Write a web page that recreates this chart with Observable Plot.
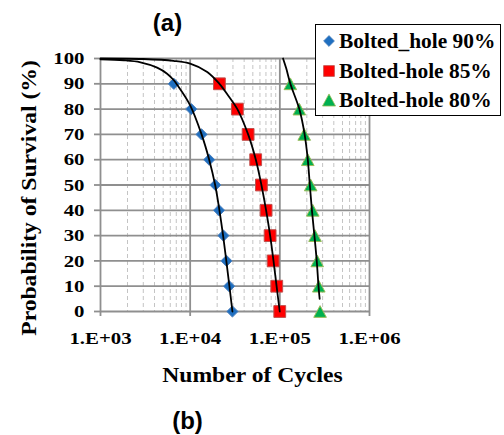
<!DOCTYPE html>
<html><head><meta charset="utf-8">
<script src="https://cdn.jsdelivr.net/npm/d3@7"></script>
<script src="https://cdn.jsdelivr.net/npm/@observablehq/plot@0.6"></script>
<style>
body{margin:0;background:#fff;}
#wrap{position:relative;width:504px;height:435px;overflow:hidden;}
#legend{position:absolute;left:315px;top:24px;width:184px;height:90px;border:1.5px solid #000;background:#fff;
  font-family:"Liberation Serif","Times New Roman",serif;font-weight:bold;font-size:20px;color:#000;}
.item{position:absolute;left:0;height:24px;width:184px;}
.item svg{position:absolute;left:5px;top:4px;}
.item span{position:absolute;left:23px;top:0;line-height:24px;white-space:nowrap;transform:scaleX(1.07);transform-origin:left center;}
</style>
</head><body>
<div id="wrap"><div id="legend"></div></div>
<script>
// ---- data ----
const seriesNames = ["Bolted_hole 90%", "Bolted-hole 85%", "Bolted-hole 80%"];
const seriesColors = ["#1f6fc0", "#ff0000", "#00b050"];
const seriesStrokes = ["#4f81bd", "#c0504d", "#9bbb59"];
const survival = [90, 80, 70, 60, 50, 40, 30, 20, 10, 0];
const cycles90 = [6570, 10300, 13400, 16300, 19100, 21000, 23500, 25400, 27200, 29600];
const cycles85 = [21200, 33600, 44300, 53800, 62300, 70300, 77900, 84200, 92400, 99800];
const cycles80 = [131000, 165000, 187000, 205000, 221000, 233000, 247000, 261000, 272000, 281000];
// fitted curves
const fit90x = [1000, 1820, 2790, 4280, 5530, 6570, 7200, 10000, 13400, 16300, 19000, 21200, 23300, 25300, 27400, 29600];
const fit90y = [99.7, 99.3, 98.5, 96.4, 94, 91.4, 89.5, 81.5, 70, 60, 50, 40, 30, 20, 10, 0];
const fit85x = [1000, 3000, 6500, 10000, 15500, 21200, 27000, 33600, 44300, 54000, 62300, 70300, 78000, 85000, 92000, 99800];
const fit85y = [100, 99.8, 99.1, 98, 94.7, 90, 85, 80, 70, 60, 50, 40, 30, 20, 10, 0];
const fit80x = [108600, 118000, 131000, 165000, 189000, 205000, 216000, 228000, 243000, 258000, 270000, 278000];
const fit80y = [100, 96, 90, 80, 70, 60, 50, 40, 30, 20, 10, 5];
const yTicks = [0, 10, 20, 30, 40, 50, 60, 70, 80, 90, 100];
const xTicks = [1e3, 1e4, 1e5, 1e6];
const xTickLabels = ["1.E+03", "1.E+04", "1.E+05", "1.E+06"];
const xTitle = "Number of Cycles";
const yTitle = "Probability of Survival (%)";
const panelTop = "(a)";
const panelBottom = "(b)";

// ---- symbols ----
const diamond = {draw(ctx, size){const r=Math.sqrt(size/Math.PI);ctx.moveTo(0,-r);ctx.lineTo(r,0);ctx.lineTo(0,r);ctx.lineTo(-r,0);ctx.closePath();}};
const square = {draw(ctx, size){const r=Math.sqrt(size/Math.PI);ctx.rect(-r,-r,2*r,2*r);}};
const triangle = {draw(ctx, size){const r=Math.sqrt(size/Math.PI);const h=0.93*r;ctx.moveTo(0,-h);ctx.lineTo(r,h);ctx.lineTo(-r,h);ctx.closePath();}};
const symbols = [diamond, square, triangle];
const radii = [5.6, 5.9, 6.3];

const pts = [cycles90, cycles85, cycles80].map((c, s) => survival.map((y, i) => ({x: c[i], y, s})));
const fits = [[fit90x, fit90y], [fit85x, fit85y], [fit80x, fit80y]].map(([xs, ys]) => xs.map((x, i) => ({x, y: ys[i]})));

const minor = [];
for (const d of [1e3, 1e4, 1e5]) for (let k = 2; k <= 9; k++) minor.push(d * k);

const svg = Plot.plot({
  width: 504, height: 435,
  marginLeft: 100, marginRight: 135, marginTop: 58, marginBottom: 124,
  style: {fontFamily: "'Liberation Serif','Times New Roman',serif", fontWeight: "bold", overflow: "visible", background: "transparent"},
  x: {type: "log", domain: [1e3, 1e6]},
  y: {domain: [0, 100]},
  marks: [
    Plot.ruleX(minor, {stroke: "#c4c4c4", strokeWidth: 1, strokeDasharray: "4,3"}),
    Plot.ruleY(yTicks, {stroke: "#8f8f8f", strokeWidth: 1.8}),
    Plot.ruleX(xTicks, {stroke: "#8f8f8f", strokeWidth: 1.8}),
    Plot.axisY({ticks: yTicks, tickSize: 6, tickPadding: 10, fontSize: 17.5, stroke: "#8f8f8f", strokeWidth: 1.8, fill: "#000", label: null}),
    Plot.axisX({ticks: xTicks, tickFormat: (d) => xTickLabels[xTicks.indexOf(d)], tickSize: 5, tickPadding: 15, fontSize: 17.5, stroke: "#8f8f8f", strokeWidth: 1.8, fill: "#000", label: null}),
    ...pts.map((p, s) => Plot.dot(p, {x: "x", y: "y", symbol: symbols[s], r: radii[s], fill: seriesColors[s], stroke: seriesStrokes[s], strokeWidth: 1})),
    ...fits.map(f => Plot.line(f, {x: "x", y: "y", curve: "catmull-rom", stroke: "#000", strokeWidth: 1.8})),
    Plot.text([xTitle], {frameAnchor: "bottom", lineAnchor: "bottom", textAnchor: "middle", dx: 17.5, dy: 70.5, fontSize: 20, fill: "#000"}),
    Plot.text([yTitle], {frameAnchor: "left", rotate: -90, textAnchor: "middle", dx: -71, dy: 13, fontSize: 20, fill: "#000"}),
    Plot.text([panelTop], {frameAnchor: "top-left", lineAnchor: "bottom", textAnchor: "middle", dx: 67, dy: -27.5, fontSize: 24, fontFamily: "'Liberation Sans', Arial, sans-serif", fill: "#000"}),
    Plot.text([panelBottom], {frameAnchor: "bottom-left", lineAnchor: "bottom", textAnchor: "middle", dx: 87, dy: 117.5, fontSize: 24, fontFamily: "'Liberation Sans', Arial, sans-serif", fill: "#000"})
  ]
});
const wrap = document.getElementById("wrap");
wrap.insertBefore(svg, wrap.firstChild);
// horizontal stretch of the serif texts to match the reference's wide glyphs
svg.querySelectorAll("text").forEach(t => {
  const txt = t.textContent;
  if (txt === panelTop || txt === panelBottom) return;
  const f = (txt === xTitle || txt === yTitle) ? 1.18 : 1.19;
  const L = t.getComputedTextLength();
  if (L > 0) {
    t.setAttribute("textLength", (L * f).toFixed(2));
    t.setAttribute("lengthAdjust", "spacingAndGlyphs");
  }
});

// legend
const legend = document.getElementById("legend");
const legendSizes = [5.4, 5.4, 6.5];
seriesNames.forEach((name, s) => {
  const item = document.createElement("div");
  item.className = "item";
  item.style.top = (4 + s * 29.5) + "px";
  const r = legendSizes[s];
  const ms = d3.create("svg").attr("width", 16).attr("height", 16);
  const g = ms.append("g").attr("transform", "translate(8,8)");
  g.append("path").attr("d", d3.symbol(symbols[s], Math.PI * r * r)()).attr("fill", seriesColors[s]).attr("stroke", seriesStrokes[s]).attr("stroke-width", 0.8);
  item.append(ms.node());
  const sp = document.createElement("span");
  sp.textContent = name;
  item.append(sp);
  legend.append(item);
});
</script>
</body></html>
